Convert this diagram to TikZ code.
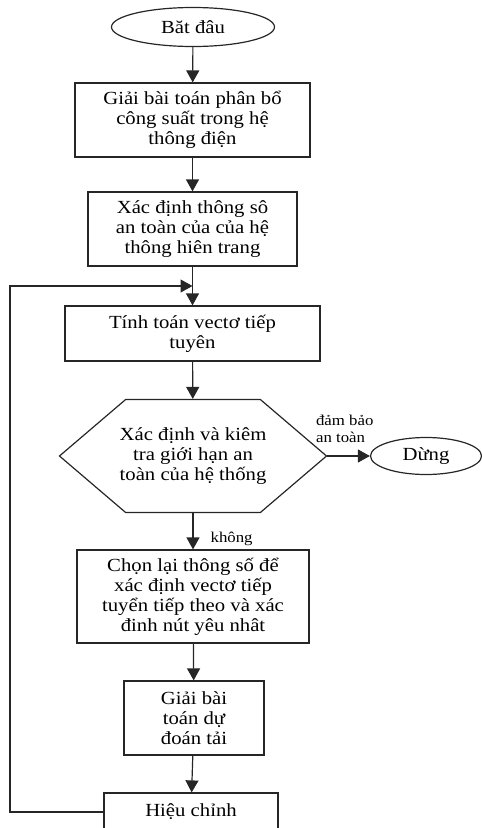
\documentclass[tikz,border=0pt]{standalone}
\usepackage{fontspec}
\setmainfont{Liberation Serif}[FakeStretch=1.12]
\usetikzlibrary{arrows.meta,calc,shapes.geometric,shapes.symbols}

\begin{document}
\begin{tikzpicture}[
  x=1pt,y=-1pt,
  font=\fontsize{18.5}{20}\selectfont,
  line width=1.2pt,
  block/.style={draw=black!85,rectangle,inner sep=2pt},
  terminal/.style={draw=black!85,ellipse,inner sep=0pt},
  decision/.style={draw=black!85,signal,signal to=west and east,signal pointer angle=81,inner ysep=0pt,inner xsep=-6pt},
  to/.style={-{Triangle[width=13pt,length=12pt]},draw=black!85},
  note/.style={font=\fontsize{15}{17}\selectfont,inner sep=0pt},
  every node/.style={align=center}]

  \useasboundingbox (0,0) rectangle (482,828);

  % Position the nodes at their coordinates
  \node[terminal,minimum width=163pt,minimum height=39pt] (start) at (193,27) {Băt đâu};
  \node[block,minimum width=235pt,minimum height=74pt] (solve) at (192.5,120)
    {Giải bài toán phân bổ\\công suất trong hệ\\thông điện};
  \node[block,minimum width=209pt,minimum height=74pt] (params) at (192.5,229)
    {Xác định thông sô\\an toàn của của hệ\\thông hiên trang};
  \node[block,minimum width=255pt,minimum height=55pt] (tangent) at (192.5,333.5)
    {Tính toán vectơ tiếp\\tuyên};
  \node[decision,minimum height=113pt] (check) at (193,456)
    {Xác định và kiêm\\tra giới hạn an\\toàn của hệ thống};
  \node[terminal,minimum width=111pt,minimum height=37pt] (stop) at (426,456) {Dừng};
  \node[block,minimum width=232pt,minimum height=93pt] (reselect) at (193,596.5)
    {Chọn lại thông số để\\xác định vectơ tiếp\\tuyển tiếp theo và xác\\đinh nút yêu nhât};
  \node[block,minimum width=140pt,minimum height=74pt] (forecast) at (194,718)
    {Giải bài\\toán dự\\đoán tải};
  \node[block,minimum width=174pt,minimum height=38pt] (adjust) at (191,812) {Hiệu chỉnh};

  \coordinate (merge) at ($(params.south)!0.5!(tangent.north)$);
  \coordinate (loop) at (10,0);

  % Draw the arrows between the nodes and label them.
  \draw[to] (start) -- (solve);
  \draw[to] (solve) -- (params);
  \draw[to] (params) -- (tangent);
  \draw[to] (tangent) -- (check);
  \draw[to] (check.east) -- node[note,pos=0,anchor=south west,align=left,xshift=-12pt,yshift=13pt] {đảm bảo\\an toàn} (stop);
  \draw[to] (check.south) -- node[note,midway,right,xshift=17pt,yshift=-8pt] {không} (reselect);
  \draw[to] (reselect) -- (forecast);
  \draw[to] (forecast) -- (adjust);
  \draw[to] (adjust.west) -| (loop |- merge) -- (merge);
\end{tikzpicture}
\end{document}
